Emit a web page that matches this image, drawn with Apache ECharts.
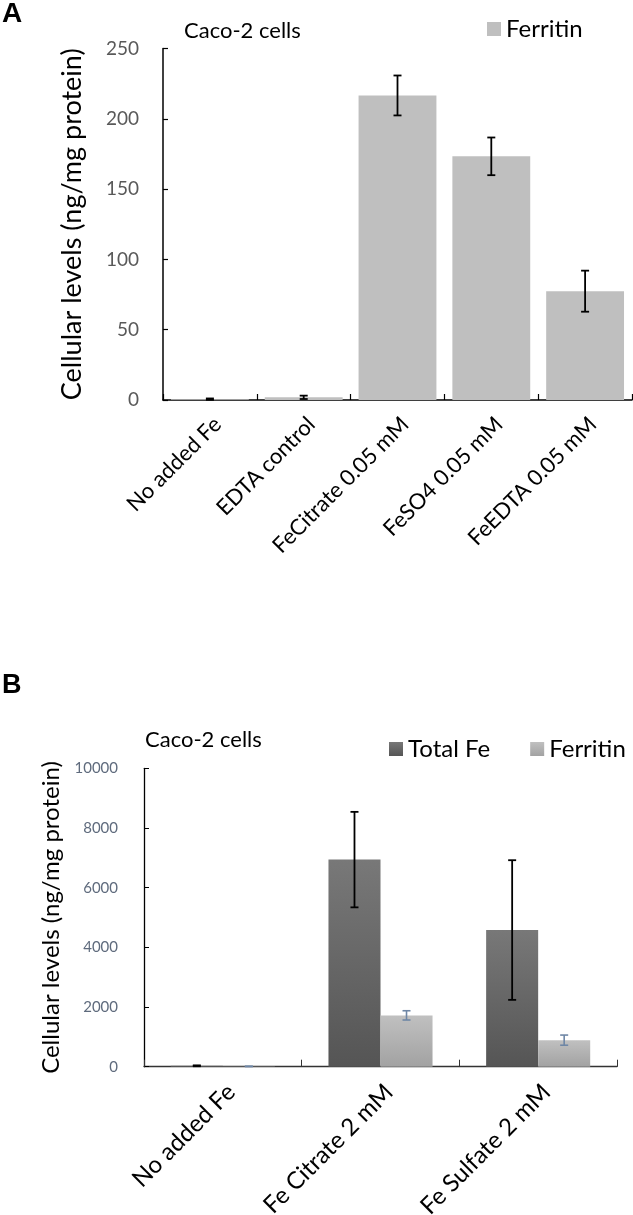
<!DOCTYPE html>
<html>
<head>
<meta charset="utf-8">
<script src="https://cdn.jsdelivr.net/npm/echarts@6/dist/echarts.min.js"></script>
<style>
html,body{margin:0;padding:0;background:#fff;}
#chart{width:633px;height:1215px;}
</style>
</head>
<body>
<div id="chart"></div>
<script>
// Panel A data
const catsA = ['No added Fe', 'EDTA control', 'FeCitrate 0.05 mM', 'FeSO4 0.05 mM', 'FeEDTA 0.05 mM'];
const ferritinA = [0.6, 1.9, 216.6, 173.3, 77.4];
const ferritinErrA = [0.5, 1.2, 14.2, 13.4, 14.6];

// Panel B data
const catsB = ['No added Fe', 'Fe Citrate 2 mM', 'Fe Sulfate 2 mM'];
const totalFeB = [30, 6940, 4580];
const totalFeErrB = [15, 1600, 2340];
const ferritinB = [10, 1720, 890];
const ferritinErrB = [5, 155, 170];

const FONT = 'Lato';
const gapB = 0.34;

function errData(vals, errs) {
  return vals.map((v, i) => [i, v - errs[i], v + errs[i]]);
}

function errRenderer(color, lw, offsetSign, gap) {
  return function (params, api) {
    const i = api.value(0);
    let off = 0;
    if (offsetSign !== 0) {
      const band = api.size([1, 0])[0];
      const barW = band * (1 - gap) / 2;
      off = offsetSign * barW / 2;
    }
    const lo = api.coord([i, api.value(1)]);
    const hi = api.coord([i, api.value(2)]);
    const x = lo[0] + off;
    const cap = 4;
    const style = { stroke: color, lineWidth: lw };
    return {
      type: 'group',
      children: [
        { type: 'line', shape: { x1: x, y1: lo[1], x2: x, y2: hi[1] }, style: style },
        { type: 'line', shape: { x1: x - cap, y1: lo[1], x2: x + cap, y2: lo[1] }, style: style },
        { type: 'line', shape: { x1: x - cap, y1: hi[1], x2: x + cap, y2: hi[1] }, style: style }
      ]
    };
  };
}

const gradDark = new echarts.graphic.LinearGradient(0, 0, 0, 1, [
  { offset: 0, color: '#787878' }, { offset: 1, color: '#555555' }
]);
const gradLight = new echarts.graphic.LinearGradient(0, 0, 0, 1, [
  { offset: 0, color: '#C0C0C0' }, { offset: 1, color: '#A2A2A2' }
]);

const chart = echarts.init(document.getElementById('chart'), null, { renderer: 'canvas' });

const option = {
  backgroundColor: '#ffffff',
  animation: false,
  title: [
    { text: 'A', left: 2, top: 0, padding: 0, textStyle: { fontFamily: 'Liberation Sans', fontWeight: 'bold', fontSize: 28, color: '#000' } },
    { text: 'Caco-2 cells', left: 184, top: 20, padding: 0, textStyle: { fontFamily: FONT, fontWeight: 'normal', fontSize: 22, color: '#000' } },
    { text: 'B', left: 2, top: 672, padding: 0, textStyle: { fontFamily: 'Liberation Sans', fontWeight: 'bold', fontSize: 27, color: '#000' } },
    { text: 'Caco-2 cells', left: 145, top: 729, padding: 0, textStyle: { fontFamily: FONT, fontWeight: 'normal', fontSize: 22, color: '#000' } }
  ],
  legend: [
    {
      data: ['Ferritin'], left: 487, top: 17, padding: 0,
      icon: 'rect', itemWidth: 14, itemHeight: 14, itemGap: 6,
      textStyle: { fontFamily: FONT, fontSize: 24, color: '#000' }
    },
    {
      data: ['Total Fe', 'Ferritin B'], left: 389, top: 737, padding: 0,
      icon: 'rect', itemWidth: 14, itemHeight: 14, itemGap: 40,
      formatter: function (n) { return n === 'Ferritin B' ? 'Ferritin' : n; },
      textStyle: { fontFamily: FONT, fontSize: 24, color: '#000' }
    }
  ],
  grid: [
    { left: 163, right: 1, top: 48.5, height: 351.5, containLabel: false, outerBoundsMode: 'none' },
    { left: 144, right: 16, top: 768.3, height: 298.4, containLabel: false, outerBoundsMode: 'none' }
  ],
  xAxis: [
    {
      type: 'category', gridIndex: 0, data: catsA,
      axisLine: { lineStyle: { color: '#000', width: 1.5 } },
      axisTick: { show: true, inside: true, length: 6, lineStyle: { color: '#000', width: 1.2 } },
      axisLabel: { rotate: 45, margin: 13, verticalAlign: 'top', fontFamily: FONT, fontSize: 22, color: '#000', interval: 0 }
    },
    {
      type: 'category', gridIndex: 1, data: catsB,
      axisLine: { lineStyle: { color: '#333', width: 1.3 } },
      axisTick: { show: true, inside: true, length: 7, lineStyle: { color: '#333', width: 1 } },
      axisLabel: { rotate: 45, margin: 13, verticalAlign: 'top', fontFamily: FONT, fontSize: 24, color: '#000', interval: 0 }
    }
  ],
  yAxis: [
    {
      type: 'value', gridIndex: 0, min: 0, max: 250, interval: 50,
      name: 'Cellular levels (ng/mg protein)', nameLocation: 'middle', nameGap: 77,
      nameTextStyle: { fontFamily: FONT, fontSize: 27, color: '#000' },
      splitLine: { show: false },
      axisLine: { show: true, lineStyle: { color: '#000', width: 1.5 } },
      axisTick: { show: true, inside: true, length: 5, lineStyle: { color: '#000', width: 1.2 } },
      axisLabel: { margin: 24, fontFamily: FONT, fontSize: 19, color: '#595959' }
    },
    {
      type: 'value', gridIndex: 1, min: 0, max: 10000, interval: 2000,
      name: 'Cellular levels (ng/mg protein)', nameLocation: 'middle', nameGap: 63,
      nameTextStyle: { fontFamily: FONT, fontSize: 24, color: '#000' },
      splitLine: { show: false },
      axisLine: { show: true, lineStyle: { color: '#000', width: 1.3 } },
      axisTick: { show: true, inside: true, length: 5, lineStyle: { color: '#000', width: 1 } },
      axisLabel: { margin: 26, fontFamily: FONT, fontSize: 15, color: '#5F6B7D', formatter: function (v) { return String(v); } }
    }
  ],
  series: [
    {
      name: 'Ferritin', type: 'bar', xAxisIndex: 0, yAxisIndex: 0, data: ferritinA,
      barCategoryGap: '17%', itemStyle: { color: '#BFBFBF' }
    },
    {
      name: 'errA', type: 'custom', xAxisIndex: 0, yAxisIndex: 0,
      data: errData(ferritinA, ferritinErrA), z: 5,
      renderItem: errRenderer('#000', 1.8, 0, 0)
    },
    {
      name: 'Total Fe', type: 'bar', xAxisIndex: 1, yAxisIndex: 1, data: totalFeB,
      barCategoryGap: (gapB * 100) + '%', barGap: '0%', itemStyle: { color: gradDark }
    },
    {
      name: 'Ferritin B', type: 'bar', xAxisIndex: 1, yAxisIndex: 1, data: ferritinB,
      barCategoryGap: (gapB * 100) + '%', barGap: '0%', itemStyle: { color: gradLight }
    },
    {
      name: 'errTotal', type: 'custom', xAxisIndex: 1, yAxisIndex: 1,
      data: errData(totalFeB, totalFeErrB), z: 5,
      renderItem: errRenderer('#000', 1.8, -1, gapB)
    },
    {
      name: 'errFerr', type: 'custom', xAxisIndex: 1, yAxisIndex: 1,
      data: errData(ferritinB, ferritinErrB), z: 5,
      renderItem: errRenderer('#6F87A6', 1.6, 1, gapB)
    }
  ]
};
chart.setOption(option);
</script>
</body>
</html>
